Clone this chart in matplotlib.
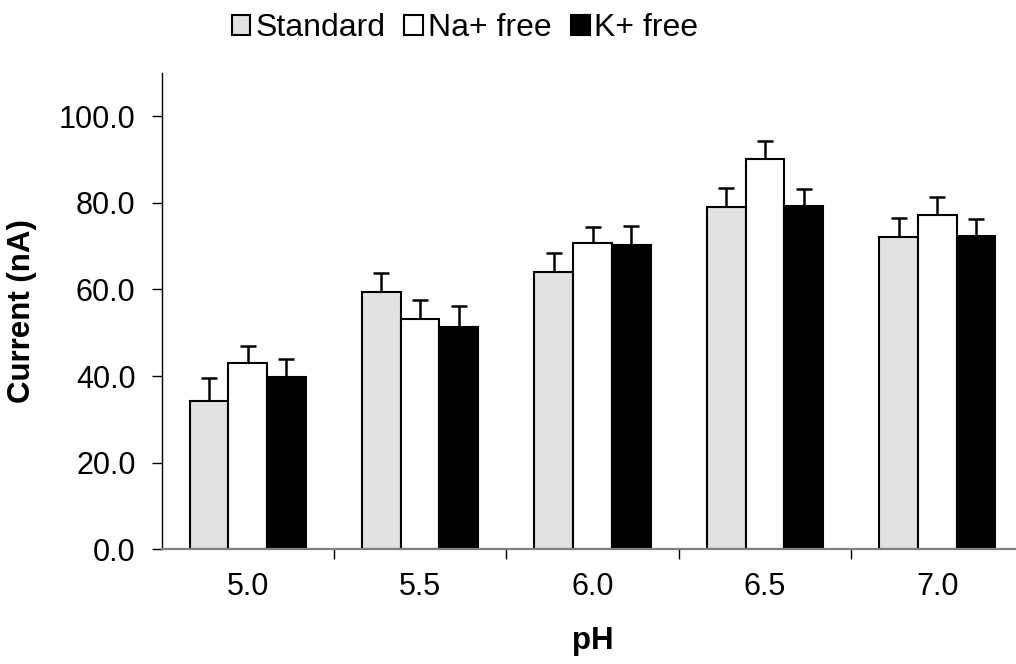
import numpy as np
import matplotlib
matplotlib.use("Agg")
import matplotlib.pyplot as plt

plt.rcParams['font.family'] = ['Liberation Sans', 'DejaVu Sans']

ph_labels = ['5.0', '5.5', '6.0', '6.5', '7.0']
series = ['Standard', 'Na+ free', 'K+ free']
standard = [34.3, 59.3, 63.9, 79.1, 72.1]
na_free = [42.9, 53.1, 70.6, 90.1, 77.2]
k_free = [39.7, 51.3, 70.3, 79.3, 72.4]
standard_err = [5.2, 4.4, 4.4, 4.4, 4.4]
na_free_err = [4.0, 4.4, 3.7, 4.1, 4.0]
k_free_err = [4.2, 4.9, 4.4, 3.9, 3.8]

values = [standard, na_free, k_free]
errors = [standard_err, na_free_err, k_free_err]
colors = ['#e2e2e2', 'white', 'black']

fig = plt.figure(figsize=(10.16, 6.64), dpi=100)
ax = fig.add_axes([0.159, 0.1727, 0.8484, 0.7178])

x = np.arange(len(ph_labels))
width = 0.2246
for i, (vals, errs) in enumerate(zip(values, errors)):
    pos = x + (i - 1) * width
    ax.bar(pos, vals, width, color=colors[i], edgecolor='black',
           linewidth=1.5, label=series[i], zorder=2)
    ax.errorbar(pos, vals, yerr=[np.zeros(len(errs)), errs], fmt='none',
                ecolor='black', elinewidth=1.8, capsize=5.6, capthick=1.8,
                zorder=1)

ax.set_xlim(-0.5, len(ph_labels) - 0.5)
ax.set_ylim(0, 110)
ax.set_yticks(np.arange(0, 101, 20))
ax.set_yticklabels([f'{v:.1f}' for v in np.arange(0, 101, 20)])
ax.set_xticks(x)
ax.set_xticklabels(ph_labels)
ax.set_xticks(np.arange(0.5, len(ph_labels)), minor=True)

ax.tick_params(axis='y', direction='out', length=7.2, width=1, pad=11.5,
               labelsize=22)
ax.tick_params(axis='x', which='major', length=0, pad=16.5, labelsize=22)
ax.tick_params(axis='x', which='minor', direction='out', length=7.2, width=1)

for s in ['top', 'right']:
    ax.spines[s].set_visible(False)
ax.spines['left'].set_color('black')
ax.spines['left'].set_linewidth(1)
ax.spines['bottom'].set_color('#808080')
ax.spines['bottom'].set_linewidth(1.6)

ax.set_ylabel('Current (nA)', fontsize=22.5, fontweight='bold', labelpad=16)
ax.set_xlabel('pH', fontsize=22.5, fontweight='bold', labelpad=17)

fig.legend(loc='center', bbox_to_anchor=(0.4577, 0.958), ncol=3,
           frameon=False, fontsize=23, handlelength=0.59, handleheight=0.59,
           handletextpad=0.15, columnspacing=0.6, borderaxespad=0)

fig.savefig('out.png', dpi=100)
